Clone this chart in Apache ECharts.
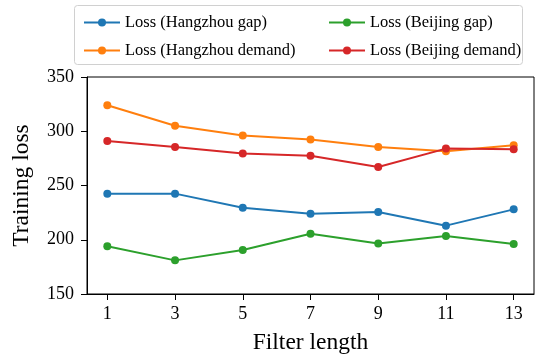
<!DOCTYPE html>
<html>
<head>
<meta charset="utf-8">
<script src="https://cdn.jsdelivr.net/npm/echarts@6/dist/echarts.min.js"></script>
<style>
html,body{margin:0;padding:0;background:#fff;}
#c{width:537px;height:362px;}
</style>
</head>
<body>
<div id="c"></div>
<script>
var filterLengths = [1, 3, 5, 7, 9, 11, 13];
var hangzhouGap = [242.5, 242.5, 229.5, 224, 225.5, 213, 228];
var hangzhouDemand = [324, 305, 296, 292.5, 285.5, 281.5, 287];
var beijingGap = [194, 181, 190.5, 205.5, 196.5, 203.5, 196];
var beijingDemand = [291, 285.5, 279.5, 277.5, 267, 284, 283.5];
var yTicks = [150, 200, 250, 300, 350];

var FONT = '"Liberation Serif", "DejaVu Serif", serif';
function pairs(vals){ return filterLengths.map(function(x,i){ return [x, vals[i]]; }); }
function mkSeries(name, vals, color){
  return {
    name: name, type: 'line', data: pairs(vals),
    symbol: 'circle', symbolSize: 8,
    lineStyle: {width: 2, color: color},
    itemStyle: {color: color},
    emphasis: {disabled: true}
  };
}
var chart = echarts.init(document.getElementById('c'), null, {renderer: 'canvas'});
var legendCommon = {
  orient: 'vertical', itemWidth: 36, itemHeight: 10, itemGap: 11,
  textStyle: {fontFamily: FONT, fontSize: 16.5, color: '#000', lineHeight: 17},
  selectedMode: false
};
chart.setOption({
  animation: false,
  backgroundColor: '#fff',
  grid: {left: 87, right: 3, top: 77, bottom: 68, show: true, borderColor: '#000', borderWidth: 1},
  graphic: [{
    type: 'rect', left: 74, top: 5, z: -1,
    shape: {width: 448, height: 59, r: 3},
    style: {fill: '#fff', stroke: '#d0d0d0', lineWidth: 1}
  }],
  legend: [
    Object.assign({left: 78, top: 9, data: ['Loss (Hangzhou gap)', 'Loss (Hangzhou demand)']}, legendCommon),
    Object.assign({left: 323, top: 9, data: ['Loss (Beijing gap)', 'Loss (Beijing demand)']}, legendCommon)
  ],
  xAxis: {
    type: 'value', min: 0.4, max: 13.6,
    name: 'Filter length', nameLocation: 'middle', nameGap: 37,
    nameTextStyle: {fontFamily: FONT, fontSize: 23.5, color: '#000'},
    axisLine: {show: true, lineStyle: {color: '#000', width: 1}},
    axisTick: {show: true, length: 6, customValues: filterLengths, lineStyle: {color: '#000'}},
    axisLabel: {customValues: filterLengths, fontFamily: FONT, fontSize: 18, color: '#000', margin: 11},
    splitLine: {show: false}
  },
  yAxis: {
    type: 'value', min: 150, max: 350, interval: 50,
    name: 'Training loss', nameLocation: 'middle', nameGap: 53,
    nameTextStyle: {fontFamily: FONT, fontSize: 23.5, color: '#000'},
    axisLine: {show: true, lineStyle: {color: '#000', width: 1}},
    axisTick: {show: true, length: 6, lineStyle: {color: '#000'}},
    axisLabel: {fontFamily: FONT, fontSize: 18, color: '#000', margin: 13},
    splitLine: {show: false}
  },
  series: [
    mkSeries('Loss (Hangzhou gap)', hangzhouGap, '#1f77b4'),
    mkSeries('Loss (Hangzhou demand)', hangzhouDemand, '#ff7f0e'),
    mkSeries('Loss (Beijing gap)', beijingGap, '#2ca02c'),
    mkSeries('Loss (Beijing demand)', beijingDemand, '#d62728')
  ]
});
</script>
</body>
</html>
